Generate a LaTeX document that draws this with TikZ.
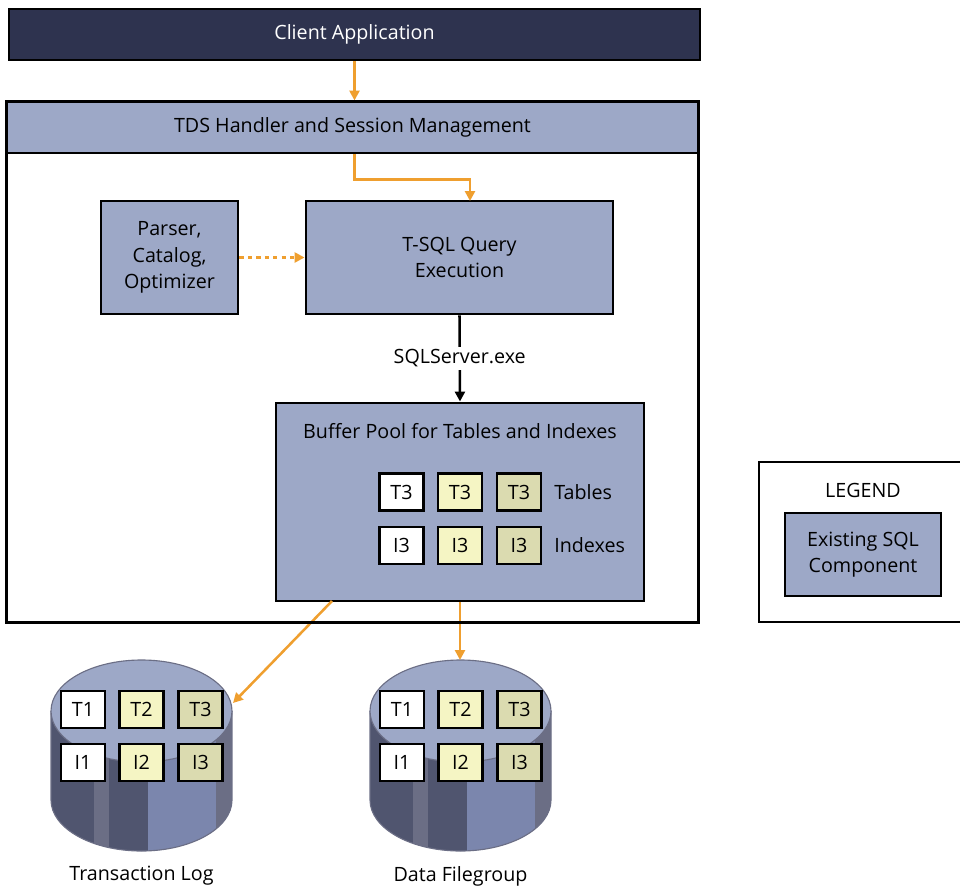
\documentclass[tikz,border=0pt]{standalone}
\usepackage{fontspec}
\setmainfont{Open Sans}
\usetikzlibrary{arrows.meta}
\definecolor{bandblue}{HTML}{9DA8C7}
\definecolor{navy}{HTML}{2E334F}
\definecolor{flow}{HTML}{EF9F2F}
\definecolor{paleyellow}{HTML}{F5F5C4}
\definecolor{duskyellow}{HTML}{DBDBB0}
\definecolor{sidedark}{HTML}{50556F}
\definecolor{sidegray}{HTML}{6B6E85}
\definecolor{sideblue}{HTML}{7B86AD}
\tikzset{
    sized/.style 2 args={minimum width=#1*0.025cm,minimum height=#2*0.025cm,inner sep=0pt},
    label text/.style={font=\fontsize{14}{19}\selectfont,inner sep=0pt,align=center},
    compbox/.style={label text,draw=black,line width=2.1pt,fill=bandblue},
    chip/.style={label text,draw=black,line width=2.1pt,sized={44}{37}},
    flowline/.style={draw=flow,line width=1.8pt,-{Triangle[length=7pt,width=7pt]}},
}
\begin{document}
\begin{tikzpicture}[x=0.025cm,y=-0.025cm]
        \useasboundingbox (0,0) rectangle (960,887);
        %% Server frame, filled first so the flow lines run under its border
        \node[sized={691}{520},fill=white] (server) at (352.5,362) {};
        %% Client and session handler
        \node[compbox,sized={691}{51},fill=navy,text=white] (client) at (354.5,34.5) {Client Application};
        \node[compbox,sized={691}{51}] (tds) at (352.5,127.5) {TDS Handler and Session Management};
        %% Engine boxes
        \node[compbox,sized={137}{113}] (parser) at (169.5,257.5) {Parser,\\Catalog,\\Optimizer};
        \node[compbox,sized={307}{113}] (query) at (459.5,257.5) {T-SQL Query\\Execution};
        \node[compbox,sized={368}{198}] (buffer) at (460,502) {};
        \node[label text] (buffertitle) at (460,431) {Buffer Pool for Tables and Indexes};
        %% Chips in the buffer pool
        \foreach \col/\x/\shade in {a/401.5/white,b/460/paleyellow,c/519/duskyellow} {
            \node[chip,fill=\shade] (tbl\col) at (\x,492) {T3};
            \node[chip,fill=\shade] (idx\col) at (\x,545.5) {I3};
        }
        \node[label text,anchor=west] (tablesname) at (554,492) {Tables};
        \node[label text,anchor=west] (indexesname) at (554,545.5) {Indexes};
        %% Disks, log on left and data on right
        \foreach \cx/\disk/\title in {141.5/log/Transaction Log,460.5/data/Data Filegroup} {
            \begin{scope}[shift={(\cx,0)}]
                \begin{scope}
                    \clip (-90.5,711) -- (-90.5,800) arc[start angle=180,end angle=0,x radius=90.5,y radius=51]
                        -- (90.5,711) -- cycle;
                    \fill[sidedark] (-91,700) rectangle (7,860);
                    \fill[sidegray] (-47.5,700) rectangle (-32.5,860);
                    \fill[sideblue] (6.5,700) rectangle (74.5,860);
                    \fill[sidegray] (74.5,700) rectangle (91,860);
                \end{scope}
                \draw[sidegray,line width=0.8pt] (-90.5,711) -- (-90.5,800) arc[start angle=180,end angle=0,x radius=90.5,y radius=51]
                    -- (90.5,711);
                \draw[sidegray,line width=0.8pt,fill=bandblue] (0,711) ellipse[x radius=90.5,y radius=51];
                \foreach \col/\x/\shade/\num in {a/-58.5/white/1,b/0/paleyellow/2,c/59/duskyellow/3} {
                    \node[chip,fill=\shade] (\disk t\col) at (\x,709.5) {T\num};
                    \node[chip,fill=\shade] (\disk i\col) at (\x,762.5) {I\num};
                }
                \node[label text] (\disk name) at (0,876) {\title};
            \end{scope}
        }
        %% Flow lines
        \coordinate (queryin) at (470,201);
        \coordinate (logout) at (332,601);
        \coordinate (login) at (233,703);
        \coordinate (datain) at (460,660);
        \draw[flowline] (client.south) -- (client.south |- tds.north);
        \draw[flowline] (client.south |- tds.south) -- ++(0,25) -| (queryin);
        \draw[flowline,dashed] (parser) -- (query);
        \draw[flowline] (logout) -- (login);
        \draw[flowline] (buffer.south) -- (datain);
        \draw[line width=1.8pt,-{Triangle[length=7pt,width=7pt]}] (query.south) -- (buffer.north)
            node[label text,midway,fill=white,inner ysep=2pt] (exename) {SQLServer.exe};
        %% Border of the server frame
        \draw[black,line width=2.1pt] (server.north west) rectangle (server.south east);
        %% Legend, runs off the right edge
        \node[draw=black,line width=2.1pt,sized={207}{160}] (legend) at (862.5,542) {};
        \node[label text] (legendtitle) at (863,490) {LEGEND};
        \node[compbox,sized={156}{83}] (legendbox) at (863,554.5) {Existing SQL\\Component};
    \end{tikzpicture}
\end{document}
